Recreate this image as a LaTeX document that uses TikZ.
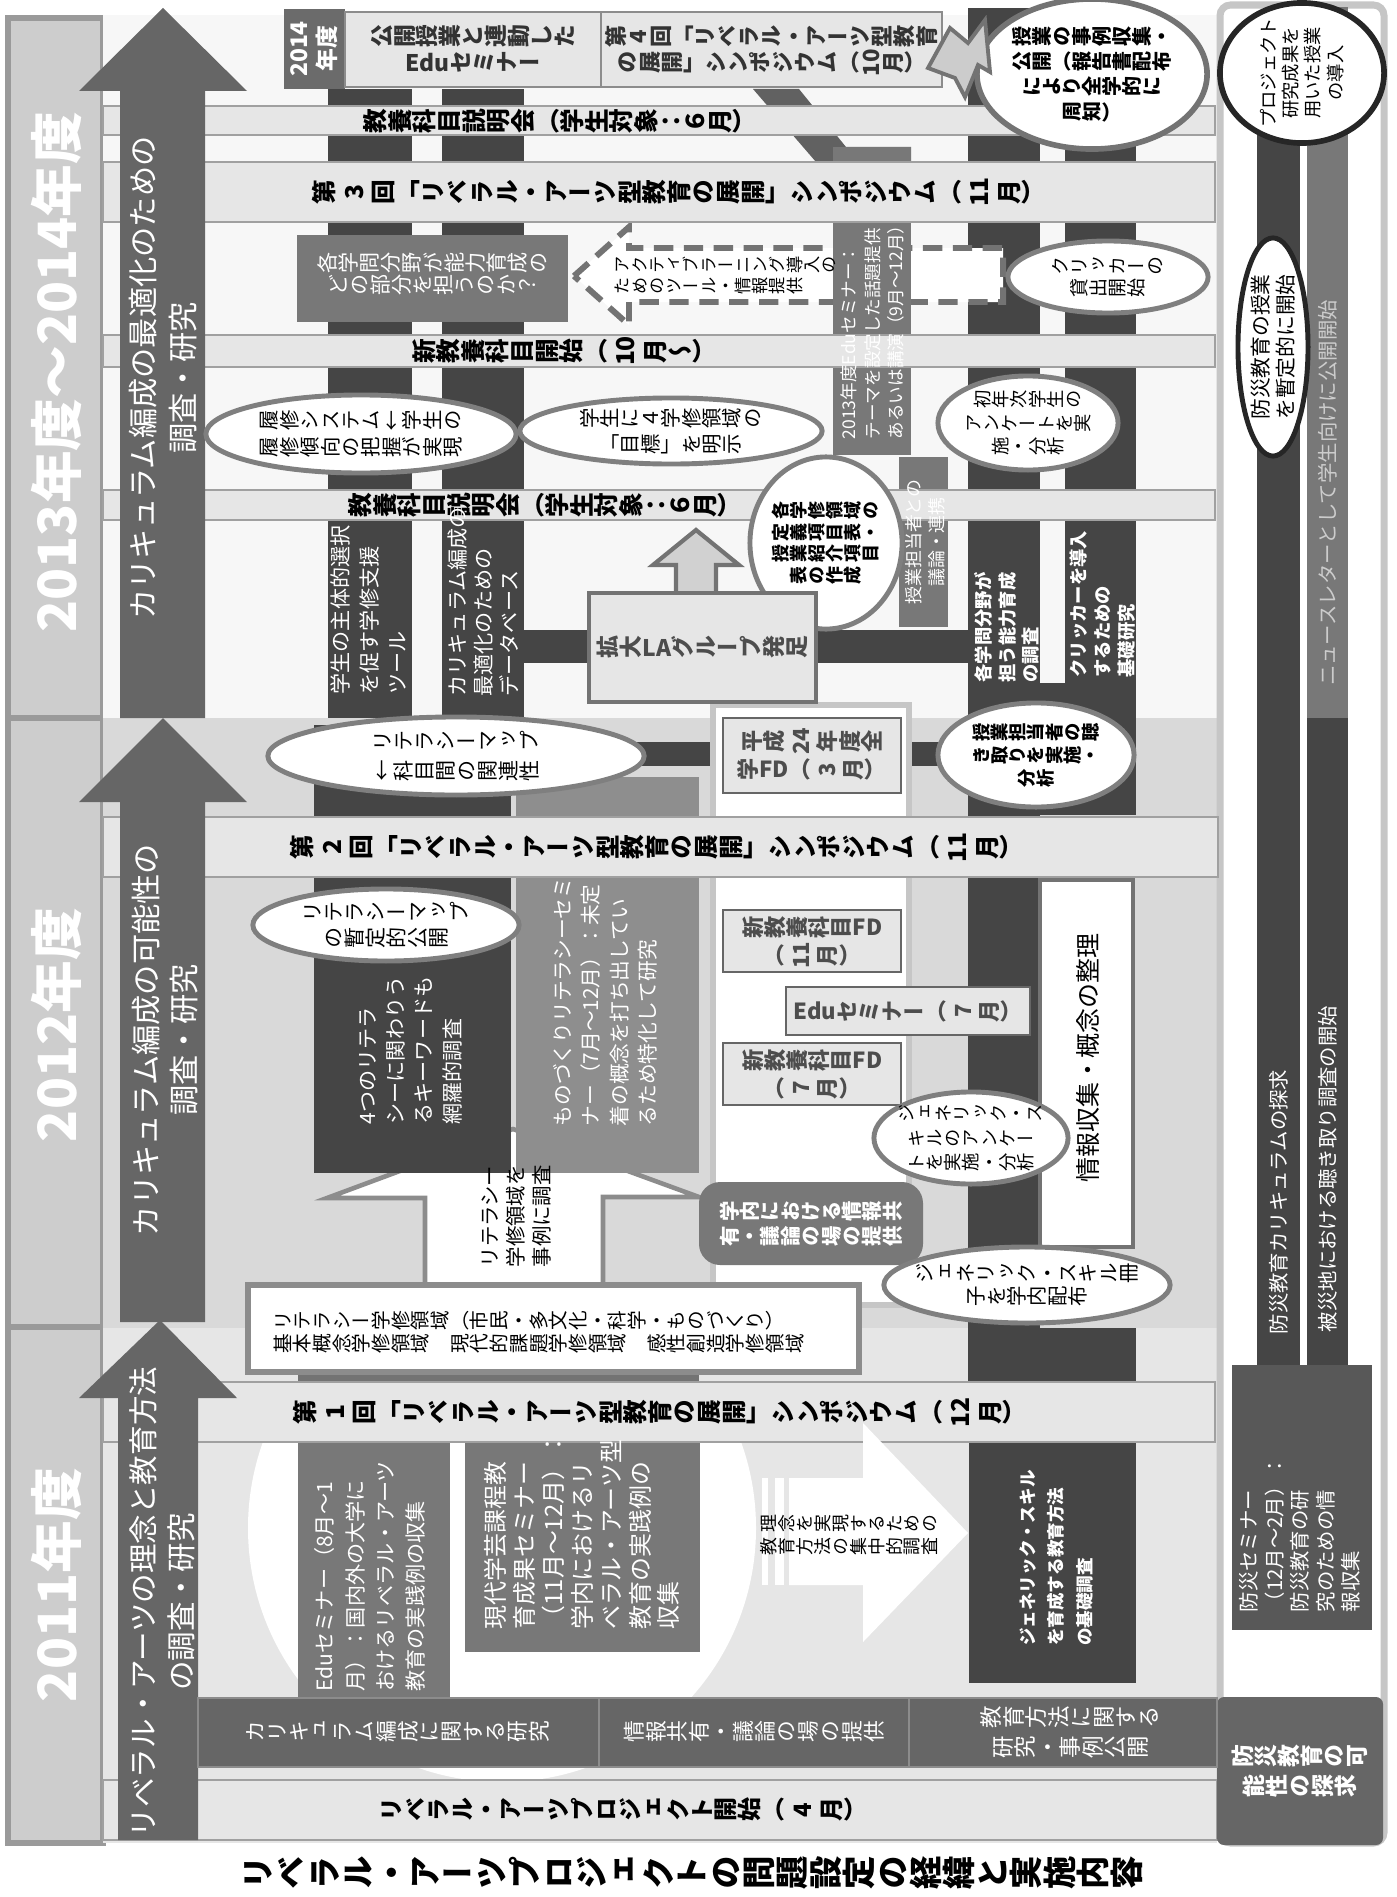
\documentclass[tikz,border=0pt]{standalone}
\usepackage{fontspec}
\usepackage{graphicx}
\setmainfont{Noto Sans CJK JP}
\newfontfamily\tatefont{Noto Sans CJK JP}[Vertical=RotatedGlyphs]
\usetikzlibrary{shapes.geometric}

\definecolor{newbg}{HTML}{F7F7F7}
\definecolor{midbg}{HTML}{D9D9D9}
\definecolor{oldbg}{HTML}{E6E6E6}
\definecolor{barfill}{HTML}{E6E6E6}
\definecolor{barline}{HTML}{A0A0A0}
\definecolor{darkbar}{HTML}{454545}
\definecolor{arrowgray}{HTML}{666666}
\definecolor{boxgray}{HTML}{787878}
\definecolor{softgray}{HTML}{8E8E8E}
\definecolor{yearfill}{HTML}{CDCDCD}
\definecolor{yearline}{HTML}{9A9A9A}
\definecolor{yeardark}{HTML}{6B6B6B}
\definecolor{ovalline}{HTML}{7F7F7F}
\definecolor{fdtext}{HTML}{4D4D4D}
\definecolor{framegray}{HTML}{C6C6C6}

\newcommand\sz[2]{\fontsize{#1}{#2}\selectfont\lineskiplimit=-30pt\relax}
% one rotated character cell of a tategaki row
\newcommand\tcell[1]{\rotatebox[origin=c]{90}{\hbox to 1em{\hss#1\hss}\vrule height .88em depth .12em width 0pt}}
\def\tend{TEND}
\def\U{UPRIGHT}
\def\K{KSPACE}
\def\tloop#1{%
	\ifx\tend#1\let\tnext\relax
	\else\ifx\U#1\let\tnext\tup
	\else\ifx\K#1\kern.2em\let\tnext\tloop
	\else\tcell{#1}\let\tnext\tloop\fi\fi\fi\tnext}
\def\tup#1{\hbox{\rmfamily#1}\tloop}
\newcommand\trow[1]{\tloop#1\tend}

\tikzset{
	hbar/.style={fill=barfill,draw=barline,line width=0.8pt},
	yoko/.style={rotate=90,inner sep=0pt,align=left,anchor=north west},
	tate/.style={inner sep=0pt,align=center},
	oval/.style 2 args={ellipse,minimum width=#1*0.02cm,minimum height=#2*0.02cm,fill=white,draw=ovalline,line width=1.4pt,inner sep=-6pt,align=center},
	boxsize/.style 2 args={minimum width=#1*0.01cm,minimum height=#2*0.01cm,inner sep=0pt},
	fdbox/.style={fill=barfill,draw=black!60,line width=0.8pt,align=center,text=fdtext},
	yearcell/.style={fill=yearfill,draw=yearline,line width=1.7pt},
	yearlab/.style={rotate=90,inner sep=0pt,text=white,font=\sz{15}{18}\bfseries},
}

\begin{document}
\begin{tikzpicture}[x=0.01cm,y=-0.01cm]
	\useasboundingbox (0,0) rectangle (1396,1897);
	% year column
	\path[yearcell] (8,18) rectangle (103,718);
	\path[yearcell] (8,718) rectangle (103,1327);
	\path[yearcell] (8,1327) rectangle (103,1843);
	\node[yearlab] (y13) at (56,372) {2013年度～2014年度};
	\node[yearlab] (y12) at (56,1025) {2012年度};
	\node[yearlab] (y11) at (56,1585) {2011年度};
	% backgrounds
	\fill[newbg] (103,15) rectangle (1217,718);
	\fill[midbg] (103,718) rectangle (1217,1328);
	\fill[oldbg] (103,1328) rectangle (1217,1843);
	\draw[framegray,line width=2pt,fill=white,rounded corners=3pt] (1220,5) rectangle (1384,1843);
	% dark tracks
	\fill[darkbar] (328,89) rectangle (412,718);
	\fill[darkbar] (442,89) rectangle (524,718);
	\fill[darkbar] (968,8) rectangle (1040,1382);
	\fill[darkbar] (1065,40) rectangle (1136,815);
	\fill[darkbar] (968,683) rectangle (1136,815);
	\fill[darkbar] (968,1328) rectangle (1136,1382);
	\fill[darkbar] (969,1443) rectangle (1136,1683);
	\fill[darkbar] (524,630) rectangle (968,663);
	\fill[darkbar] (600,742) rectangle (975,766);
	\fill[darkbar] (1257,12) rectangle (1300,1365);
	\fill[boxgray] (1307,7) rectangle (1348,718);
	\fill[darkbar] (1307,718) rectangle (1348,1365);
	\fill[darkbar!85] (753,89) -- (799,89) -- (846,147) -- (911,147) -- (911,162) -- (816,162) -- cycle;
	% dashed arrow
	\draw[draw=black!55,line width=1.7pt,fill=white,dash pattern=on 5.5pt off 3pt] (574,276) -- (629,227) -- (629,248) -- (1003,248) -- (1003,302) -- (629,302) -- (629,325) -- cycle;
	\fill[boxgray] (833,147) rectangle (911,455);
	\fill[boxgray] (899,457) rectangle (948,627);
	% 2012 blocks
	\draw[fill=white,draw=black!45,line width=1.3pt] (425,1285) -- (425,1198) -- (327,1198) -- (513,1129) -- (699,1197) -- (603,1197) -- (603,1285);
	\fill[darkbar] (314,725) rectangle (511,1173);
	\fill[softgray] (516,777) rectangle (699,1173);
	\draw[fill=white,draw=framegray,line width=1.7pt] (713,705) rectangle (909,1305);
	\draw[fill=white,draw=black!55,line width=1pt] (1040,880) rectangle (1133,1247);
	\fill[black!55] (298,1372) rectangle (699,1381);
	\draw[fill=white,draw=black!45,line width=1.6pt] (248,1285) rectangle (859,1372);
	% 2011 circle
	\begin{scope}
		\clip (103,1442) rectangle (1217,1843);
		\fill[white] (502,1528) circle [radius=254];
	\end{scope}
	% horizontal bars
	\path[hbar] (103,106) rectangle (1215,135);
	\path[hbar] (103,162) rectangle (1215,222);
	\path[hbar] (103,335) rectangle (1215,367);
	\path[hbar] (103,490) rectangle (1215,520);
	\path[hbar] (103,817) rectangle (1218,877);
	\path[hbar] (103,1382) rectangle (1215,1442);
	\path[hbar] (103,1780) rectangle (1217,1840);
	% arrows
	\fill[arrowgray] (120,718) -- (120,91) -- (79,91) -- (163,8) -- (247,91) -- (205,91) -- (205,718) -- cycle;
	\fill[arrowgray] (120,1322) -- (120,802) -- (79,802) -- (163,718) -- (247,802) -- (205,802) -- (205,1322) -- cycle;
	\fill[arrowgray] (118,1840) -- (118,1398) -- (79,1398) -- (160,1320) -- (237,1398) -- (198,1398) -- (198,1840) -- cycle;
	\fill[white] (789,1478) -- (863,1478) -- (863,1423) -- (968,1533) -- (863,1642) -- (863,1585) -- (789,1585) -- cycle;
	\fill[white] (762,1478) rectangle (768,1585);
	\fill[white] (775,1478) rectangle (784,1585);
	\draw[fill=black!18,draw=black!55,line width=1.2pt] (676,593) -- (676,565) -- (653,565) -- (696,530) -- (739,565) -- (716,565) -- (716,593);

	% arrow texts
	\node[yoko,anchor=center,align=center,text=white,font=\sz{8.6}{11.3}] (aim13) at (163,378) {カリキュラム編成の最適化のための\\調査・研究};
	\node[yoko,anchor=center,align=center,text=white,font=\sz{8.6}{11}] (aim12) at (165,1040) {カリキュラム編成の可能性の\\調査・研究};
	\node[yoko,anchor=center,align=center,text=white,font=\sz{8.4}{10.8}] (aim11) at (162,1602) {リベラル・アーツの理念と教育方法\\の調査・研究};

	% header 2014
	\node[fill=yeardark,boxsize={61}{80}] (y14box) at (314.5,49) {};
	\node[yoko,anchor=center,align=center,text=white,font=\sz{6.5}{8}\bfseries] (y14) at (y14box) {2014\\年度};
	\node[fill=barfill,draw=black!45,line width=0.8pt,boxsize={256}{75}] (koukaibox) at (473,49.5) {};
	\node[tate,font=\tatefont\sz{6.5}{7.4}\bfseries,text=black!80] (koukai) at (koukaibox) {\trow{公開授業と連動した}\\\trow{\U{Edu}セミナー}};
	\node[fill=barfill,draw=black!45,line width=0.8pt,boxsize={341}{75}] (sympo4box) at (771.5,49.5) {};
	\node[tate,font=\tatefont\sz{6.3}{7.4}\bfseries,text=black!80] (sympo4) at (sympo4box) {\trow{第4回「リベラル・アーツ型教育}\\\trow{の展開」シンポジウム（{10}月）}};
	\node[oval={115}{75},draw=black!55,line width=1.6pt,font=\tatefont\sz{5.7}{7.2}\bfseries] (jirei) at (1092,74) {\trow{授業の事例収集・}\\\trow{公開（報告書配布}\\\trow{により全学的に}\\\trow{周知）}};
	% jagged arrow from the symposium box to the circle
	\draw[fill=black!20,draw=black!55,line width=1.1pt] (928,68) -- (950,28) -- (968,43) -- (985,20) -- (990,72) -- (978,65) -- (965,97) -- (955,78) -- cycle;

	% bar texts
	\node[tate,font=\tatefont\sz{7}{8}\bfseries] (setsumei1) at (560,121) {\trow{教養科目説明会（学生対象：６月）}};
	\node[tate,font=\tatefont\sz{7}{8}\bfseries] (sympo3) at (679,192) {\trow{第\K3\K 回「リベラル・アーツ型教育の展開」シンポジウム（\K{11}\K 月）}};
	\node[tate,font=\tatefont\sz{7}{8}\bfseries] (kaishi) at (564,351) {\trow{新教養科目開始（\K{10}\K 月～）}};
	\node[tate,font=\tatefont\sz{7}{8}\bfseries] (setsumei2) at (545,505) {\trow{教養科目説明会（学生対象：６月）}};
	\node[tate,font=\tatefont\sz{7}{8}\bfseries] (sympo2) at (657,847) {\trow{第\K2\K 回「リベラル・アーツ型教育の展開」シンポジウム（\K{11}\K 月）}};
	\node[tate,font=\tatefont\sz{7}{8}\bfseries] (sympo1) at (660,1412) {\trow{第\K1\K 回「リベラル・アーツ型教育の展開」シンポジウム（\K{12}\K 月）}};
	\node[tate,font=\tatefont\sz{6.8}{8}\bfseries] (start) at (623,1810) {\trow{リベラル・アーツプロジェクト開始（\K4\K 月）}};
	\node[tate,font=\tatefont\sz{9.5}{10}\bfseries] (title) at (692,1873) {\trow{リベラル・アーツプロジェクトの問題設定の経緯と実施内容}};

	% 2013-2014
	\node[fill=boxgray,boxsize={271}{87}] (bunyabox) at (432.5,278.5) {};
	\node[tate,text=white,font=\tatefont\sz{6}{6.3}] (bunya) at (433,274) {\trow{各学問分野が能力育成の}\\\trow{どの部分を担うのか？}};
	\node[tate,align=left,anchor=west,font=\tatefont\sz{4.9}{6}] (active) at (613,275) {\trow{アクティブラーニング導入の}\\\trow{ためのツール・情報提供}};
	\node[yoko,text=white,font=\sz{5}{6.7}] (edu13) at (840,440) {2013年度Eduセミナー：\\テーマを設定した話題提供\\あるいは講演（9月～12月）};
	\node[yoko,anchor=center,align=center,text=white,font=\sz{5.1}{6.5}] (renkei) at (925,542) {授業担当者との\\議論・連携};
	\node[oval={76}{86},font=\tatefont\sz{5.1}{6.2}\bfseries] (teigi) at (826,543) {\trow{各学修領域の}\\\trow{定義項目表・}\\\trow{授業紹介項目}\\\trow{表の作成}};
	\node[fill=barfill,draw=black!55,line width=1.2pt,boxsize={227}{109}] (labox) at (702.5,647.5) {};
	\node[tate,text=fdtext,font=\tatefont\sz{6.5}{7}\bfseries] (la) at (labox) {\trow{拡大\U{LA}グループ発足}};
	\node[oval={155}{39},font=\tatefont\sz{5.8}{7.7}] (rishu) at (361,434) {\trow{履修システム\U{↓}学生の}\\\trow{履修傾向の把握が実現}};
	\node[oval={151}{33},font=\tatefont\sz{5.8}{7.4}] (mokuhyo) at (671,431) {\trow{学生に４学修領域の}\\\trow{「目標」を明示}};
	\node[oval={100}{36},font=\tatefont\sz{5.4}{6}] (clicker) at (1108,277) {\trow{クリッカーの}\\\trow{貸出開始}};
	\node[oval={90}{47},font=\tatefont\sz{5.2}{6.7}] (shonen) at (1028,423) {\trow{初年次学生の}\\\trow{アンケートを実}\\\trow{施・分析}};
	\node[yoko,text=white,font=\sz{6}{8.1}] (shien) at (330,695) {学生の主体的選択\\を促す学修支援\\ツール};
	\node[yoko,text=white,font=\sz{6}{7.4}] (db) at (447,697) {カリキュラム編成の\\最適化のための\\データベース};
	\node[yoko,text=white,font=\sz{5.2}{6.7}\bfseries] (noryoku) at (974,683) {各学問分野が\\担う能力育成\\の調査};
	\node[yoko,text=white,font=\sz{5.2}{6.9}\bfseries] (dounyu) at (1069,678) {クリッカーを導入\\するための\\基礎研究};

	% bousai
	\node[oval={70}{82},rotate=90,draw=black!85,line width=1.6pt,font=\sz{5.2}{6.3}] (seika) at (1302,73) {プロジェクト\\研究成果を\\用いた授業\\の導入};
	\node[yoko,anchor=center,text=black!20,font=\sz{5.8}{7}] (news) at (1328,493) {ニュースレターとして学生向けに公開開始};
	\node[oval={109}{35},rotate=90,draw=black!85,line width=1.4pt,font=\sz{5.9}{7.1}] (bousaijugyo) at (1273,347) {防災教育の授業\\を暫定的に開始};
	\node[yoko,anchor=center,text=white,font=\sz{5.8}{7}] (tankyu) at (1279,1202) {防災教育カリキュラムの探求};
	\node[yoko,anchor=center,text=white,font=\sz{5.8}{7}] (hisaichi) at (1328,1169) {被災地における聴き取り調査の開始};
	\node[fill=darkbar!90,boxsize={140}{265}] (bseminarbox) at (1302,1497.5) {};
	\node[yoko,text=white,font=\sz{5.8}{7.25}] (bseminar) at (1239,1613) {防災セミナー\\（12月～2月）：\\防災教育の研\\究のための情\\報収集};
	\node[fill=arrowgray,rounded corners=2pt,boxsize={166}{148}] (kanouseibox) at (1300,1771) {};
	\node[tate,text=white,font=\tatefont\sz{6.5}{8.5}\bfseries] (kanousei) at (kanouseibox) {\trow{防災教育の可}\\\trow{能性の探求}};

	% 2012
	\node[oval={188}{39},font=\tatefont\sz{6}{8.5}] (mapkanren) at (456,756) {\trow{リテラシーマップ}\\\trow{\U{↓}科目間の関連性}};
	\node[oval={133}{36},font=\tatefont\sz{6}{7.4}] (mapkoukai) at (386,925) {\trow{リテラシーマップ}\\\trow{の暫定的公開}};
	\node[yoko,text=white,font=\sz{6}{8}] (keyword) at (359,1125) {4つのリテラ\\シーに関わりう\\るキーワードも\\網羅的調査};
	\node[yoko,text=white,font=\sz{5.9}{8}] (monozukuri) at (553,1127) {ものづくりリテラシーセミ\\ナー（7月～12月）：未定\\着の概念を打ち出してい\\るため特化して研究};
	\node[yoko,font=\sz{5.8}{7.4}] (jirei12) at (481,1268) {リテラシー\\学修領域を\\事例に調査};
	\node[tate,align=left,anchor=west,font=\tatefont\sz{5.6}{6.5}] (ryoiki) at (272,1332) {\trow{リテラシー学修領域（市民・多文化・科学・ものづくり）}\\\trow{基本概念学修領域　現代的課題学修領域　感性創造学修領域}};
	\node[fdbox,boxsize={178}{75},font=\tatefont\sz{6.3}{8}\bfseries] (fd24) at (812,755.5) {\trow{平成\K{24}\K 年度全}\\\trow{学\U{FD}（\K3\K 月）}};
	\node[fdbox,boxsize={178}{62},font=\tatefont\sz{6.3}{8}\bfseries] (fd11) at (812,941) {\trow{新教養科目\U{FD}}\\\trow{（\K{11}\K 月）}};
	\node[fdbox,boxsize={244}{48},font=\tatefont\sz{6.3}{8}\bfseries] (edu7) at (908,1011) {\trow{\U{Edu}セミナー（\K7\K 月）}};
	\node[fdbox,boxsize={178}{62},font=\tatefont\sz{6.3}{8}\bfseries] (fd7) at (812,1074) {\trow{新教養科目\U{FD}}\\\trow{（\K7\K 月）}};
	\node[fill=boxgray,rounded corners=6pt,boxsize={224}{83},align=center,text=white,font=\tatefont\sz{5.8}{7.1}\bfseries] (kyoyu) at (811,1223.5) {\trow{学内における情報共}\\\trow{有・議論の場の提供}};
	\node[oval={97}{46},font=\tatefont\sz{5.2}{6.9}] (generic1) at (971,1138) {\trow{ジェネリック・ス}\\\trow{キルのアンケー}\\\trow{トを実施・分析}};
	\node[oval={143}{38},font=\tatefont\sz{5.8}{6.7}] (generic2) at (1027,1285) {\trow{ジェネリック・スキル冊}\\\trow{子を学内配布}};
	\node[oval={98}{52},font=\tatefont\sz{5.2}{6.5}\bfseries] (kikitori) at (1036,755) {\trow{授業担当者の聴}\\\trow{き取りを実施・}\\\trow{分析}};
	\node[yoko,anchor=center,font=\sz{7.1}{8}] (seiri) at (1088,1058) {情報収集・概念の整理};

	% 2011
	\node[fill=boxgray,boxsize={152}{254}] (edu11box) at (374,1570) {};
	\node[yoko,text=white,font=\sz{6}{8.6}] (edu11) at (314,1692) {Eduセミナー（8月～1\\月）：国内外の大学に\\おけるリベラル・アーツ\\教育の実践例の収集};
	\node[fill=boxgray,boxsize={235}{209}] (gendaibox) at (582.5,1547.5) {};
	\node[yoko,text=white,font=\sz{6.8}{8.2}] (gendai) at (484,1630) {現代学芸課程教\\育成果セミナー\\（11月～12月）：\\学内におけるリ\\ベラル・アーツ型\\教育の実践例の\\収集};
	\node[yoko,anchor=center,text=white,font=\sz{5}{8.1}\bfseries] (kisochosa) at (1056,1558) {ジェネリック・スキル\\を育成する教育方法\\の基礎調査};
	\node[tate,align=left,anchor=west,font=\tatefont\sz{5.1}{6.8}] (shuchu) at (759,1535) {\trow{理念を実現するための}\\\trow{教育方法の集中的調査}};
	\node[fill=arrowgray,draw=black!45,line width=0.6pt,boxsize={401}{69}] (kenkyu) at (398.5,1732.5) {};
	\node[fill=arrowgray,draw=black!45,line width=0.6pt,boxsize={310}{69}] (kyoyu11) at (754,1732.5) {};
	\node[fill=arrowgray,draw=black!45,line width=0.6pt,boxsize={308}{69}] (kohyo) at (1063,1732.5) {};
	\node[tate,text=white,font=\tatefont\sz{6.2}{7}] (kenkyut) at (397,1732) {\trow{カリキュラム編成に関する研究}};
	\node[tate,text=white,font=\tatefont\sz{6.2}{7}] (kyoyu11t) at (754,1732) {\trow{情報共有・議論の場の提供}};
	\node[tate,text=white,font=\tatefont\sz{6.4}{8.5}] (kohyot) at (1070,1732) {\trow{教育方法に関する}\\\trow{研究・事例公開}};
\end{tikzpicture}
\end{document}
